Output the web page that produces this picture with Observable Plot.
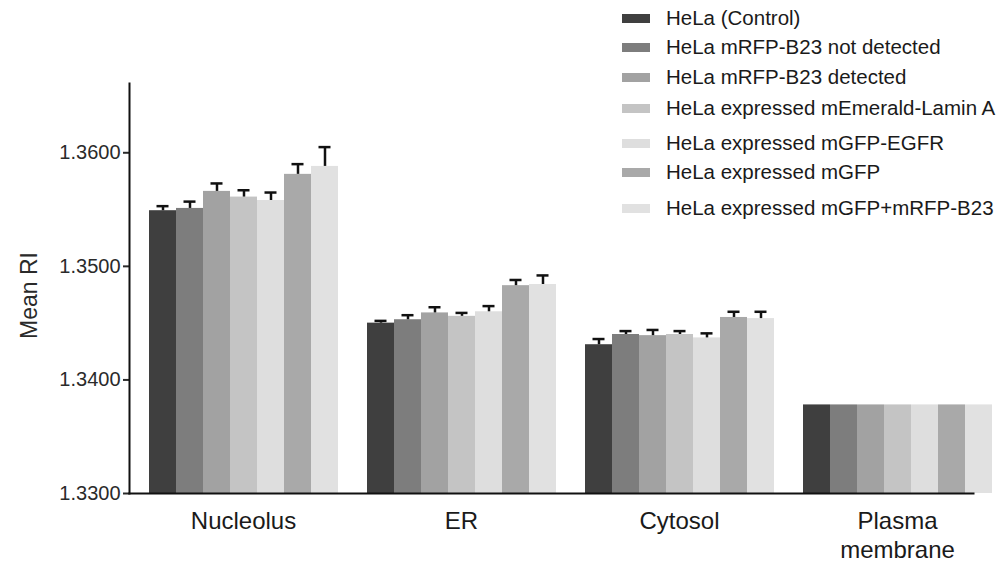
<!DOCTYPE html>
<html><head><meta charset="utf-8">
<script src="https://cdn.jsdelivr.net/npm/d3@7"></script>
<script src="https://cdn.jsdelivr.net/npm/@observablehq/plot@0.6"></script>
<style>
body{margin:0;background:#fff;}
#wrap{position:relative;width:1004px;height:563px;overflow:hidden;font-family:"Liberation Sans",Arial,sans-serif;color:#1a1a1a;}
#legend .row{position:absolute;left:622px;height:20px;line-height:20px;display:flex;align-items:center;font-size:20.5px;white-space:nowrap;}
#legend .sw{width:28px;height:9px;margin-right:16px;}
</style></head><body>
<div id="wrap"><div id="chart"></div><div id="legend"></div></div>
<script>
const groups = ["Nucleolus", "ER", "Cytosol", "Plasma membrane"];
const groupLabels = ["Nucleolus", "ER", "Cytosol", "Plasma\nmembrane"];
const seriesNames = [
  "HeLa (Control)",
  "HeLa mRFP-B23 not detected",
  "HeLa mRFP-B23 detected",
  "HeLa expressed mEmerald-Lamin A",
  "HeLa expressed mGFP-EGFR",
  "HeLa expressed mGFP",
  "HeLa expressed mGFP+mRFP-B23"
];
const seriesColors = ["#3f3f3f", "#7d7d7d", "#a2a2a2", "#c4c4c4", "#dedede", "#a9a9a9", "#e1e1e1"];
const nucleolusMean = [1.3549, 1.3551, 1.3566, 1.3561, 1.3558, 1.3581, 1.3588];
const nucleolusErr  = [0.0004, 0.0006, 0.0007, 0.0006, 0.0007, 0.0009, 0.0017];
const erMean        = [1.3450, 1.3453, 1.3459, 1.3456, 1.3460, 1.3483, 1.3484];
const erErr         = [0.0002, 0.0004, 0.0005, 0.0003, 0.0005, 0.0005, 0.0008];
const cytosolMean   = [1.3431, 1.3440, 1.3439, 1.3440, 1.3437, 1.3455, 1.3454];
const cytosolErr    = [0.0005, 0.0003, 0.0005, 0.0003, 0.0004, 0.0005, 0.0006];
const plasmaMean    = [1.3378, 1.3378, 1.3378, 1.3378, 1.3378, 1.3378, 1.3378];
const plasmaErr     = [null, null, null, null, null, null, null];
const yTicks = [1.33, 1.34, 1.35, 1.36];
const yDomain = [1.33, 1.3661];

const means = [nucleolusMean, erMean, cytosolMean, plasmaMean];
const errs = [nucleolusErr, erErr, cytosolErr, plasmaErr];
const table = [];
groups.forEach((g, gi) => seriesNames.forEach((s, si) => {
  table.push({group: g, series: s, value: means[gi][si], err: errs[gi][si],
              top: errs[gi][si] == null ? null : means[gi][si] + errs[gi][si]});
}));
const withErr = table.filter(d => d.err != null);

// the first facet sits 19px right of the plot's left margin; axis lines sit at the margin
const axisShift = -19;

const plot = Plot.plot({
  width: 1004,
  height: 563,
  marginTop: 83,
  marginBottom: 70,
  marginLeft: 127,
  marginRight: -9,
  style: {fontFamily: '"Liberation Sans", Arial, sans-serif', fontSize: "20px", color: "#1a1a1a", background: "#fff"},
  fx: {domain: groups, paddingInner: 0.128, paddingOuter: 0.087, axis: null},
  x: {domain: seriesNames, padding: 0, axis: null},
  y: {domain: yDomain, axis: null},
  color: {domain: seriesNames, range: seriesColors},
  marks: [
    Plot.barY(table, {fx: "group", x: "series", y1: () => yDomain[0], y2: "value", fill: "series"}),
    Plot.ruleX(withErr, {fx: "group", x: "series", y1: "value", y2: "top", stroke: "#111", strokeWidth: 2.5}),
    Plot.tickY(withErr, {fx: "group", x: "series", y: "top", stroke: "#111", strokeWidth: 2.5, insetLeft: 7.5, insetRight: 7.5}),
    Plot.axisY({ticks: yTicks, tickFormat: d3.format(".4f"), tickSize: 6, tickPadding: 3, strokeWidth: 2, dx: axisShift,
      color: "#2a2a2a", label: "Mean RI", labelAnchor: "center", labelArrow: "none", labelOffset: 109}),
    Plot.axisFx({anchor: "bottom", tickSize: 0, tickPadding: 16, fontSize: 24, lineHeight: 1.17, label: null,
      tickFormat: d => groupLabels[groups.indexOf(d)]}),
    Plot.frame({anchor: "left", facet: "super", strokeWidth: 2, stroke: "#111", dx: axisShift}),
    Plot.frame({anchor: "bottom", facet: "super", strokeWidth: 2, stroke: "#111", dx: axisShift})
  ]
});
const yLabel = d3.select(plot).select("[aria-label='y-axis label']");
yLabel.attr("font-size", 23).attr("transform", (yLabel.attr("transform") || "") + ` translate(${axisShift},7)`);
document.getElementById("chart").append(plot);

const legendRowY = [18, 47, 77, 108, 143, 172, 208];
const legend = document.getElementById("legend");
seriesNames.forEach((s, i) => {
  const row = document.createElement("div");
  row.className = "row";
  row.style.top = (legendRowY[i] - 10) + "px";
  const sw = document.createElement("div");
  sw.className = "sw";
  sw.style.background = seriesColors[i];
  row.append(sw, document.createTextNode(s));
  legend.append(row);
});
</script>
</body></html>
